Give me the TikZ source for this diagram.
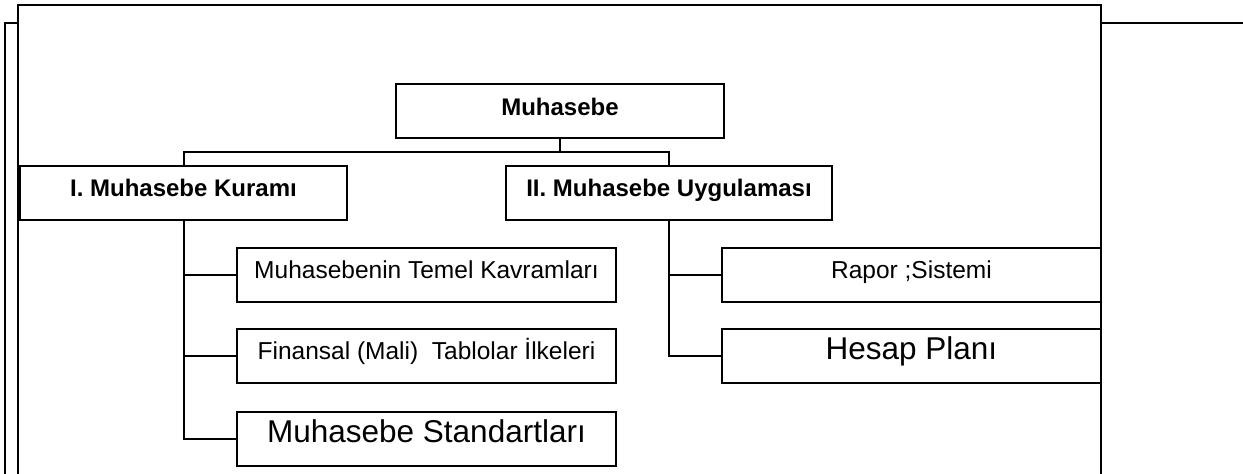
\documentclass[tikz,border=0pt]{standalone}
\usepackage{fontspec}
\setmainfont{Liberation Sans}

\begin{document}
\begin{tikzpicture}[x=1pt,y=-1pt,
      kutu/.style={draw,line width=2pt,inner sep=0pt,minimum height=54pt,
         text height=22pt,text depth=15pt},
      baslik/.style={kutu,font=\fontsize{24}{27}\selectfont\bfseries},
      alt/.style={kutu,minimum width=379pt,font=\fontsize{24.5}{28}\selectfont},
      buyuk/.style={alt,font=\fontsize{31.5}{34}\selectfont},
      hat/.style={line width=2pt}]
            \useasboundingbox (0,0) rectangle (1243,474);
            % cerceve
            \draw [hat] (18,480) -- (18,5) -- (1101,5) -- (1101,480);
            \draw [hat] (5,480) -- (5,23) -- (18,23);
            \draw [hat] (1101,23) -- (1250,23);

            \node [baslik,minimum width=328pt,text depth=13pt] (muh) at (560,111) {Muhasebe};
            \node [baslik,minimum width=327pt] (kuram) at (183.5,193) {I. Muhasebe Kuramı};
            \node [baslik,minimum width=326pt] (uyg) at (669,193) {II. Muhasebe Uygulaması};

            \node [alt] (temel) at (426.5,275) {Muhasebenin Temel Kavramları};
            \node [alt] (ilke) at (426.5,355.5) {Finansal (Mali)~~Tablolar İlkeleri};
            \node [buyuk] (std) at (426.5,438.5) {Muhasebe Standartları};

            \node [alt] (rapor) at (911.5,274.5) {Rapor ;Sistemi};
            \node [buyuk] (plan) at (911.5,355.5) {Hesap Planı};

            \coordinate (dal) at (560,152);
            \draw [hat] (muh.south) -- (dal);
            \draw [hat] (kuram.north) |- (dal) -| (uyg.north);

            \draw [hat] (kuram.south) |- (std.west);
            \draw [hat] (kuram.south |- temel.west) -- (temel.west);
            \draw [hat] (kuram.south |- ilke.west) -- (ilke.west);

            \draw [hat] (uyg.south) |- (plan.west);
            \draw [hat] (uyg.south |- rapor.west) -- (rapor.west);
         \end{tikzpicture}
\end{document}
